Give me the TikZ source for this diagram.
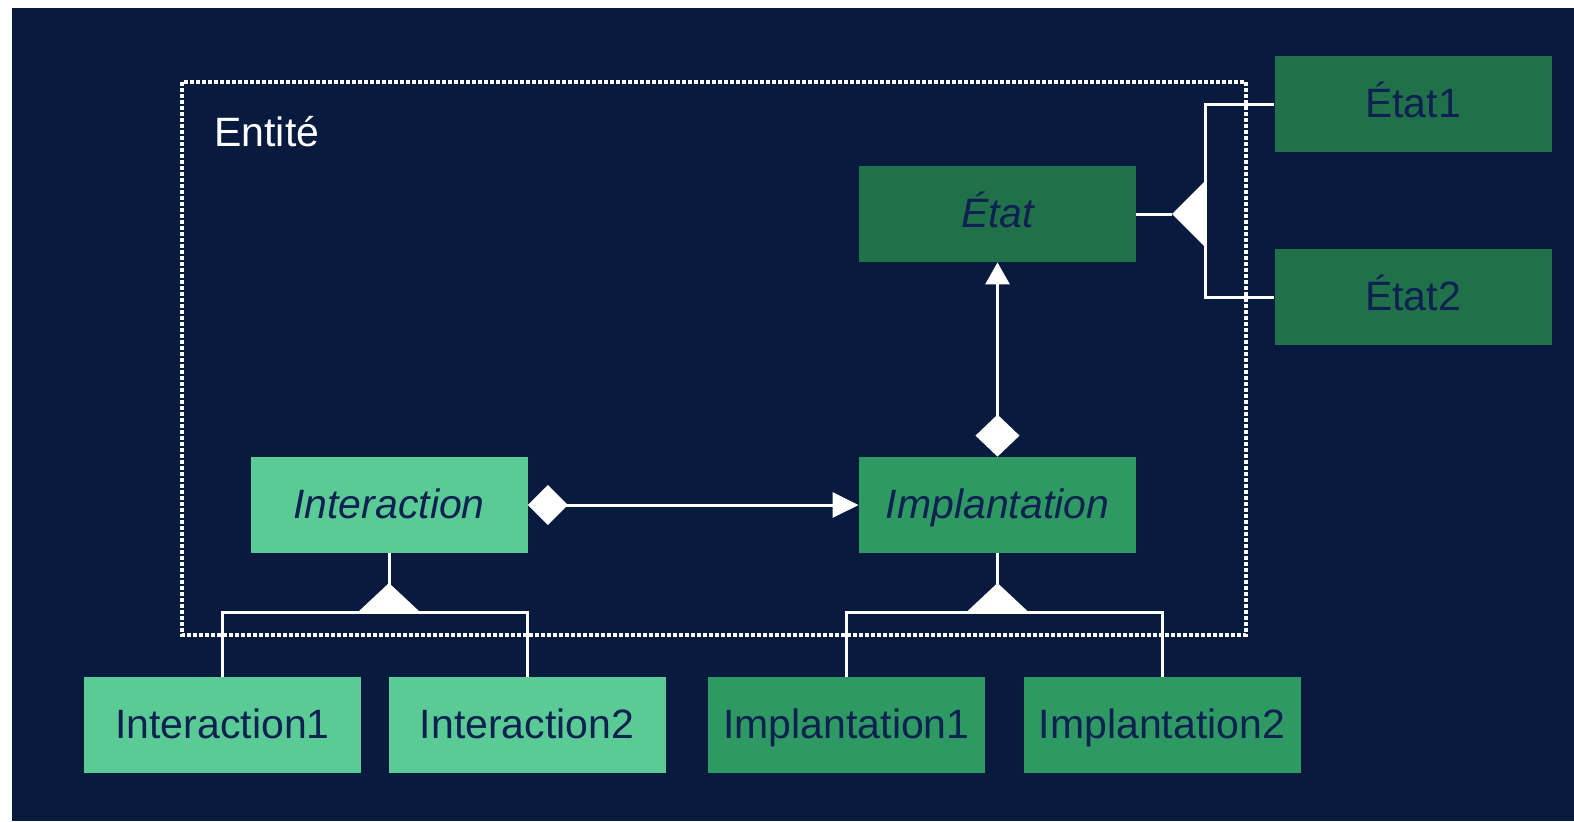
\documentclass[tikz,border=0pt]{standalone}
\usepackage{fontspec}
\setmainfont{Liberation Sans}
\usetikzlibrary{arrows.meta}
\definecolor{navy}{HTML}{081B3F}
\definecolor{txtnavy}{HTML}{0E2150}
\definecolor{lightgr}{HTML}{5ACB95}
\definecolor{midgr}{HTML}{2E9962}
\definecolor{darkgr}{HTML}{20704A}
\tikzset{
  cls/.style={minimum width=138.5pt, minimum height=48pt, inner sep=0pt,
    text height=14pt, text depth=1pt,
    text=txtnavy, font=\fontsize{20.5pt}{24pt}\selectfont},
  light/.style={cls, fill=lightgr},
  mid/.style={cls, fill=midgr},
  dark/.style={cls, fill=darkgr},
  link/.style={draw=white, line width=1.5pt},
  tri/.style={fill=white},
  frame/.style={draw=white, line width=1.6pt, dash pattern=on 2pt off 1pt}
}
\begin{document}
\begin{tikzpicture}[x=0.5pt, y=-0.5pt]
\useasboundingbox (0,0) rectangle (1574,821);
\fill[navy] (12,8) rectangle (1574,821);
% frame
\draw[frame] (182,82) rectangle (1246,635);
\node[anchor=base west, inner sep=0pt, text=white, font=\fontsize{20.5pt}{24pt}\selectfont] (ent) at (214,146) {Entité};
% nodes
\node[dark] (etat) at (997.5,214) {\itshape État};
\node[dark] (etat1) at (1413,104) {État1};
\node[dark] (etat2) at (1413,297) {État2};
\node[light] (inter) at (389,505) {\itshape Interaction};
\node[mid] (impl) at (997.5,505) {\itshape Implantation};
\node[light] (inter1) at (222.5,725) {Interaction1};
\node[light] (inter2) at (527,725) {Interaction2};
\node[mid] (impl1) at (846.5,725) {Implantation1};
\node[mid] (impl2) at (1162,725) {Implantation2};
% association Interaction -> Implantation
\draw[link, {Diamond[length=20pt,width=20pt,fill=white]}-{Triangle[length=13pt,width=12.5pt,fill=white]}] (inter.east) -- (impl.west);
% association Implantation -> Etat
\draw[link, {Diamond[length=21pt,width=22pt,fill=white]}-{Triangle[length=11pt,width=12pt,fill=white]}] (impl.north) -- (etat.south);
% inheritance Interaction
\coordinate (ib) at (389,612);
\draw[link] (inter.south) -- (ib);
\fill[tri] ([xshift=-15.5pt]ib) -- ([yshift=14.5pt]ib) -- ([xshift=15.5pt]ib) -- cycle;
\draw[link] (inter1.north) |- (ib) -| (inter2.north);
% inheritance Implantation
\coordinate (pb) at (997.5,612);
\draw[link] (impl.south) -- (pb);
\fill[tri] ([xshift=-15.5pt]pb) -- ([yshift=14.5pt]pb) -- ([xshift=15.5pt]pb) -- cycle;
\draw[link] (impl1.north) |- (pb) -| (impl2.north);
% inheritance Etat
\coordinate (eb) at (1205,214);
\coordinate (et) at (1172,214);
\draw[link] (etat.east) -- (et);
\fill[tri] (et) -- ([yshift=16.5pt]eb) -- ([yshift=-16.5pt]eb) -- cycle;
\draw[link] (etat1.west) -| (eb) |- (etat2.west);
\end{tikzpicture}
\end{document}
